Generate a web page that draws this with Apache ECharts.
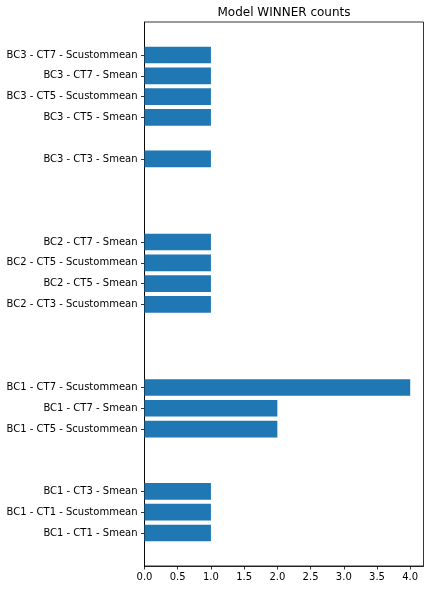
<!DOCTYPE html>
<html>
<head>
<meta charset="utf-8">
<script src="https://cdn.jsdelivr.net/npm/echarts@6/dist/echarts.min.js"></script>
<style>html,body{margin:0;padding:0;background:#fff;}#c{width:430px;height:590px;}</style>
</head>
<body>
<div id="c"></div>
<script>
const labels = [
  'BC1 - CT1 - Smean', 'BC1 - CT1 - Scustommean', 'BC1 - CT3 - Smean',
  'BC1 - CT5 - Scustommean', 'BC1 - CT7 - Smean', 'BC1 - CT7 - Scustommean',
  'BC2 - CT3 - Scustommean', 'BC2 - CT5 - Smean', 'BC2 - CT5 - Scustommean', 'BC2 - CT7 - Smean',
  'BC3 - CT3 - Smean', 'BC3 - CT5 - Smean', 'BC3 - CT5 - Scustommean',
  'BC3 - CT7 - Smean', 'BC3 - CT7 - Scustommean'
];
const positions = [0, 1, 2, 5, 6, 7, 11, 12, 13, 14, 18, 20, 21, 22, 23];
const counts = [1, 1, 1, 2, 2, 4, 1, 1, 1, 1, 1, 1, 1, 1, 1];
const xTicks = [0, 0.5, 1, 1.5, 2, 2.5, 3, 3.5, 4];

const labelMap = {};
positions.forEach((p, i) => { labelMap[p] = labels[i]; });
const FONT = 'DejaVu Sans';

const chart = echarts.init(document.getElementById('c'), null, {renderer: 'canvas'});
chart.setOption({
  animation: false,
  backgroundColor: '#fff',
  title: {
    text: 'Model WINNER counts',
    left: 284, top: 6.5, textAlign: 'center', padding: 0,
    textStyle: {fontFamily: FONT, fontSize: 12, fontWeight: 'normal', color: '#000'}
  },
  grid: {
    left: 144.5, right: 6.5, top: 22, bottom: 24,
    show: true, borderColor: '#000', borderWidth: 0.8, containLabel: false
  },
  xAxis: {
    type: 'value', min: 0, max: 4.2,
    splitLine: {show: false},
    axisLine: {show: true, onZero: false, lineStyle: {color: '#000', width: 0.8}},
    axisTick: {show: true, length: 3.5, lineStyle: {color: '#000', width: 0.8}, customValues: xTicks},
    axisLabel: {
      customValues: xTicks, margin: 6,
      fontFamily: FONT, fontSize: 10, color: '#000',
      formatter: v => Number(v).toFixed(1)
    }
  },
  yAxis: {
    type: 'value', min: -1.59, max: 24.59,
    splitLine: {show: false},
    axisLine: {show: true, onZero: false, lineStyle: {color: '#000', width: 0.8}},
    axisTick: {show: true, length: 3.5, lineStyle: {color: '#000', width: 0.8}, customValues: positions},
    axisLabel: {
      customValues: positions, margin: 7,
      fontFamily: FONT, fontSize: 10, color: '#000',
      formatter: v => labelMap[Math.round(v)] || ''
    }
  },
  series: [{
    type: 'custom',
    data: positions.map((p, i) => [counts[i], p]),
    encode: {x: 0, y: 1},
    renderItem: function (params, api) {
      const y = api.value(1);
      const s = api.coord([0, y]);
      const e = api.coord([api.value(0), y]);
      const h = api.size([0, 0.8])[1];
      return {
        type: 'rect',
        shape: {x: s[0], y: s[1] - h / 2, width: e[0] - s[0], height: h},
        style: {fill: '#1f77b4', stroke: null, lineWidth: 0}
      };
    }
  }]
});
</script>
</body>
</html>
